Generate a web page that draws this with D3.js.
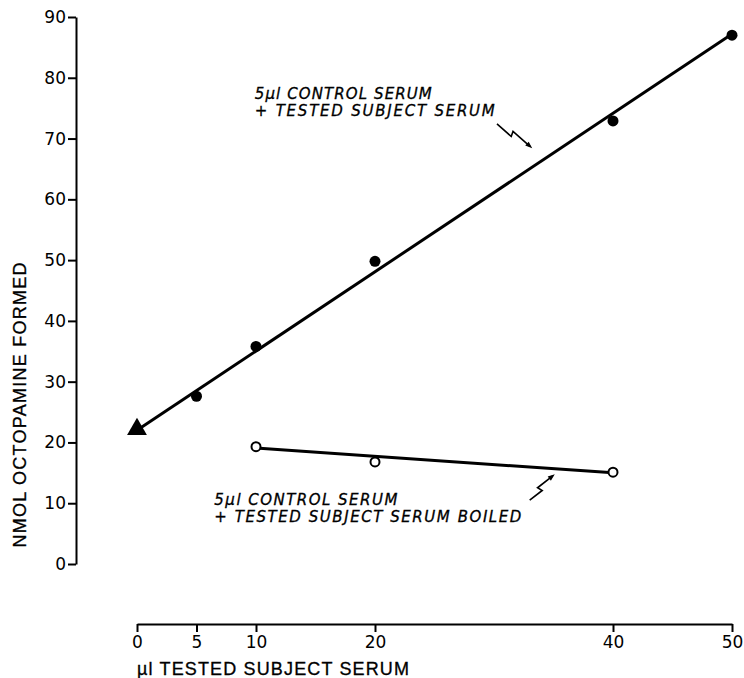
<!DOCTYPE html>
<html>
<head>
<meta charset="utf-8">
<script src="https://d3js.org/d3.v7.min.js"></script>
<style>
  body { margin: 0; background: #fff; }
  svg { display: block; }
  .axis text { font-family: "DejaVu Sans", sans-serif; font-size: 17px; fill: #000; }
  .axis path, .axis line { stroke: #000; stroke-width: 2; }
  .note { font-family: "DejaVu Sans", sans-serif; font-style: italic; font-size: 15px; fill: #000; stroke: #000; stroke-width: 0.3; }
  .title { font-family: "Liberation Sans", sans-serif; font-size: 18px; fill: #000; stroke: #000; stroke-width: 0.3; }
</style>
</head>
<body>
<div id="chart"></div>
<script>
// values
var serumUl    = [5, 10, 20, 40, 50];
var controlNm  = [27.6, 35.8, 49.8, 72.9, 87.0];
var boiledUl   = [10, 20, 40];
var boiledNm   = [19.3, 16.8, 15.1];
var startPoint = [0, 22];           // triangle at 0 ul
var fitControl = [[0, 22], [50, 87.2]];
var fitBoiled  = [[10, 19.1], [40, 15.0]];
var xTicks = [0, 5, 10, 20, 40, 50];
var yTicks = [0, 10, 20, 30, 40, 50, 60, 70, 80, 90];

var width = 744, height = 678;

var svg = d3.select("#chart").append("svg")
    .attr("width", width)
    .attr("height", height);

var x = d3.scaleLinear().domain([0, 50]).range([137, 732]);
var y = d3.scaleLinear().domain([0, 90]).range([564, 17]);

// y axis
svg.append("g")
    .attr("class", "axis")
    .attr("transform", "translate(" + 76 + ",0)")
    .call(d3.axisLeft(y).tickValues(yTicks).tickSize(8).tickSizeOuter(0).tickPadding(2));

// x axis, drawn apart below the plot
svg.append("g")
    .attr("class", "axis")
    .attr("transform", "translate(0," + 624 + ")")
    .call(d3.axisBottom(x).tickValues(xTicks).tickSize(8).tickSizeOuter(0).tickPadding(4));

// axis titles
svg.append("text")
    .attr("class", "title")
    .attr("transform", "translate(26," + 405 + ") rotate(-90)")
    .attr("text-anchor", "middle")
    .attr("textLength", 285)
    .attr("lengthAdjust", "spacing")
    .text("NMOL  OCTOPAMINE  FORMED");

svg.append("text")
    .attr("class", "title")
    .attr("x", 137)
    .attr("y", 675)
    .attr("textLength", 272)
    .attr("lengthAdjust", "spacing")
    .text("µl  TESTED  SUBJECT  SERUM");

var line = d3.line().x(d => x(d[0])).y(d => y(d[1]));

// fitted lines
svg.append("path")
    .attr("d", line(fitControl))
    .attr("fill", "none").attr("stroke", "#000").attr("stroke-width", 3);

svg.append("path")
    .attr("d", line(fitBoiled))
    .attr("fill", "none").attr("stroke", "#000").attr("stroke-width", 3);

// points
svg.append("g").selectAll("circle")
    .data(serumUl)
    .join("circle")
    .attr("cx", d => x(d))
    .attr("cy", (d, i) => y(controlNm[i]))
    .attr("r", 5.5)
    .attr("fill", "#000");

svg.append("g").selectAll("circle")
    .data(boiledUl)
    .join("circle")
    .attr("cx", d => x(d))
    .attr("cy", (d, i) => y(boiledNm[i]))
    .attr("r", 4.5)
    .attr("fill", "#fff")
    .attr("stroke", "#000")
    .attr("stroke-width", 2);

svg.append("path")
    .attr("d", d3.symbol(d3.symbolTriangle, 170)())
    .attr("transform", "translate(" + x(startPoint[0]) + "," + (y(startPoint[1]) - 1) + ")")
    .attr("fill", "#000");

// annotations
var notes = [
  { at: [9.9, 76.5], lines: ["5µl CONTROL  SERUM", "+ TESTED  SUBJECT  SERUM"], len: [177, 240] },
  { at: [6.5, 9.7],  lines: ["5µl CONTROL  SERUM", "+ TESTED  SUBJECT  SERUM  BOILED"], len: [183, 307] }
];
var arrows = [
  { from: [30.25, 72.4], to: [33.1, 67.5] },
  { from: [33.0, 10.5],  to: [35.5, 14.3] }
];

notes.forEach(function(n) {
  n.lines.forEach(function(t, i) {
    svg.append("text")
        .attr("class", "note")
        .attr("x", x(n.at[0]))
        .attr("y", y(n.at[1]) + i * 17)
        .attr("textLength", n.len[i])
        .attr("lengthAdjust", "spacing")
        .text(t);
  });
});

function squiggle(x0, y0, x1, y1) {
  var dx = x1 - x0, dy = y1 - y0, L = Math.hypot(dx, dy);
  var ux = dx / L, uy = dy / L, px = uy, py = -ux;
  var p1 = [x0 + ux * L * 0.42, y0 + uy * L * 0.42];
  var p2 = [p1[0] + px * 5 - ux * 2, p1[1] + py * 5 - uy * 2];
  var p3 = [p2[0] + ux * L * 0.5, p2[1] + uy * L * 0.5];
  return [[x0, y0], p1, p2, p3];
}

arrows.forEach(function(a) {
  var pts = squiggle(x(a.from[0]), y(a.from[1]), x(a.to[0]), y(a.to[1]));
  svg.append("path")
      .attr("d", d3.line()(pts))
      .attr("fill", "none").attr("stroke", "#000").attr("stroke-width", 1.6);
  var e = pts[3], s = pts[2];
  var ang = Math.atan2(e[1] - s[1], e[0] - s[0]) * 180 / Math.PI;
  svg.append("path")
      .attr("d", "M0,0L-7,-2.6L-7,2.6Z")
      .attr("transform", "translate(" + (e[0] + Math.cos(ang * Math.PI / 180) * 3) + "," + (e[1] + Math.sin(ang * Math.PI / 180) * 3) + ") rotate(" + ang + ")")
      .attr("fill", "#000");
});
</script>
</body>
</html>
